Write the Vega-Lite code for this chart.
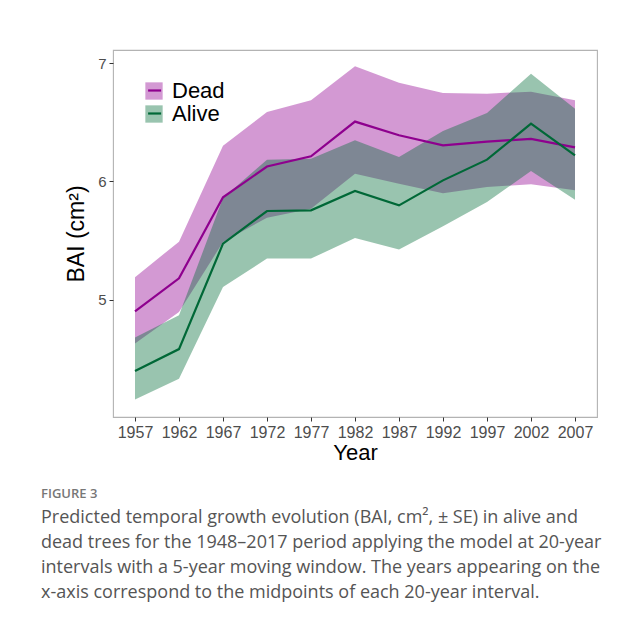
{
  "$schema": "https://vega.github.io/schema/vega-lite/v6.json",
  "width": 484,
  "height": 367,
  "autosize": {"type": "none"},
  "padding": {"left": 113, "top": 50, "right": 47, "bottom": 202},
  "background": "white",
  "config": {
    "view": {"stroke": "#b3b3b3", "strokeWidth": 1.1},
    "font": "Liberation Sans"
  },
  "title": {
    "text": "FIGURE 3",
    "subtitle": [
      "Predicted temporal growth evolution (BAI, cm², ± SE) in alive and",
      "dead trees for the 1948–2017 period applying the model at 20-year",
      "intervals with a 5-year moving window. The years appearing on the",
      "x-axis correspond to the midpoints of each 20-year interval."
    ],
    "orient": "bottom",
    "anchor": "start",
    "frame": "group",
    "dx": -72,
    "offset": 25,
    "font": "Open Sans",
    "fontSize": 13,
    "fontWeight": 600,
    "color": "#777777",
    "subtitleFont": "Open Sans",
    "subtitleFontSize": 18,
    "subtitleColor": "#555555",
    "subtitleLineHeight": 25,
    "subtitlePadding": 8
  },
  "data": {
    "values": [
      {"year": 1957, "group": "Dead", "fit": 4.90, "lo": 4.63, "hi": 5.19},
      {"year": 1962, "group": "Dead", "fit": 5.18, "lo": 4.895, "hi": 5.49},
      {"year": 1967, "group": "Dead", "fit": 5.865, "lo": 5.487, "hi": 6.30},
      {"year": 1972, "group": "Dead", "fit": 6.125, "lo": 5.693, "hi": 6.586},
      {"year": 1977, "group": "Dead", "fit": 6.212, "lo": 5.769, "hi": 6.685},
      {"year": 1982, "group": "Dead", "fit": 6.505, "lo": 6.065, "hi": 6.972},
      {"year": 1987, "group": "Dead", "fit": 6.389, "lo": 5.98, "hi": 6.834},
      {"year": 1992, "group": "Dead", "fit": 6.304, "lo": 5.90, "hi": 6.746},
      {"year": 1997, "group": "Dead", "fit": 6.336, "lo": 5.952, "hi": 6.741},
      {"year": 2002, "group": "Dead", "fit": 6.358, "lo": 5.975, "hi": 6.758},
      {"year": 2007, "group": "Dead", "fit": 6.287, "lo": 5.924, "hi": 6.685},
      {"year": 1957, "group": "Alive", "fit": 4.397, "lo": 4.155, "hi": 4.679},
      {"year": 1962, "group": "Alive", "fit": 4.582, "lo": 4.332, "hi": 4.867},
      {"year": 1967, "group": "Alive", "fit": 5.473, "lo": 5.107, "hi": 5.86},
      {"year": 1972, "group": "Alive", "fit": 5.749, "lo": 5.347, "hi": 6.183},
      {"year": 1977, "group": "Alive", "fit": 5.755, "lo": 5.347, "hi": 6.19},
      {"year": 1982, "group": "Alive", "fit": 5.918, "lo": 5.521, "hi": 6.347},
      {"year": 1987, "group": "Alive", "fit": 5.797, "lo": 5.423, "hi": 6.205},
      {"year": 1992, "group": "Alive", "fit": 6.008, "lo": 5.62, "hi": 6.425},
      {"year": 1997, "group": "Alive", "fit": 6.183, "lo": 5.825, "hi": 6.577},
      {"year": 2002, "group": "Alive", "fit": 6.487, "lo": 6.087, "hi": 6.91},
      {"year": 2007, "group": "Alive", "fit": 6.22, "lo": 5.845, "hi": 6.614}
    ]
  },
  "encoding": {
    "x": {
      "field": "year",
      "type": "quantitative",
      "scale": {"domain": [1954.5, 2009.5], "nice": false, "zero": false},
      "axis": {
        "values": [1957, 1962, 1967, 1972, 1977, 1982, 1987, 1992, 1997, 2002, 2007],
        "format": "d",
        "title": "Year",
        "titleFontSize": 22,
        "titleFontWeight": "normal",
        "titleColor": "black",
        "titlePadding": 2,
        "labelFontSize": 16,
        "labelColor": "#4d4d4d",
        "labelPadding": 3,
        "tickSize": 4,
        "tickColor": "#333333",
        "domain": false,
        "grid": false,
        "labelFlush": false,
        "labelOverlap": false
      }
    }
  },
  "layer": [
    {
      "mark": {"type": "area", "opacity": 0.4},
      "encoding": {
        "y": {
          "field": "lo",
          "type": "quantitative",
          "scale": {"domain": [4.008, 7.11], "nice": false, "zero": false},
          "axis": {
            "values": [5, 6, 7],
            "format": "d",
            "title": "BAI (cm²)",
            "titleFontSize": 23,
            "titleFontWeight": "normal",
            "titleColor": "black",
            "titlePadding": 9,
            "labelFontSize": 15,
            "labelColor": "#4d4d4d",
            "labelPadding": 3,
            "tickSize": 4,
            "tickColor": "#333333",
            "domain": false,
            "grid": false
          }
        },
        "y2": {"field": "hi"},
        "fill": {
          "field": "group",
          "type": "nominal",
          "scale": {"domain": ["Dead", "Alive"], "range": ["#920090", "#006b38"]},
          "legend": {
            "orient": "top-left",
            "offset": 29.5,
            "title": null,
            "symbolType": "square",
            "symbolSize": 300,
            "symbolOpacity": 0.4,
            "symbolStrokeWidth": 0,
            "labelFontSize": 22,
            "labelFont": "Liberation Sans",
            "labelColor": "black",
            "labelOffset": 7,
            "padding": 0,
            "rowPadding": 1
          }
        }
      }
    },
    {
      "mark": {"type": "line", "strokeWidth": 2.2},
      "encoding": {
        "y": {"field": "fit", "type": "quantitative", "title": "BAI (cm²)"},
        "stroke": {
          "field": "group",
          "type": "nominal",
          "scale": {"domain": ["Dead", "Alive"], "range": ["#8e008e", "#006837"]},
          "legend": {
            "orient": "none",
            "legendX": 30.6,
            "legendY": 29.5,
            "title": null,
            "symbolType": "stroke",
            "symbolSize": 169,
            "symbolStrokeWidth": 2.2,
            "labelFontSize": 22,
            "labelFont": "Liberation Sans",
            "labelOpacity": 0,
            "labelOffset": 7,
            "padding": 0,
            "rowPadding": 1
          }
        }
      }
    }
  ]
}
